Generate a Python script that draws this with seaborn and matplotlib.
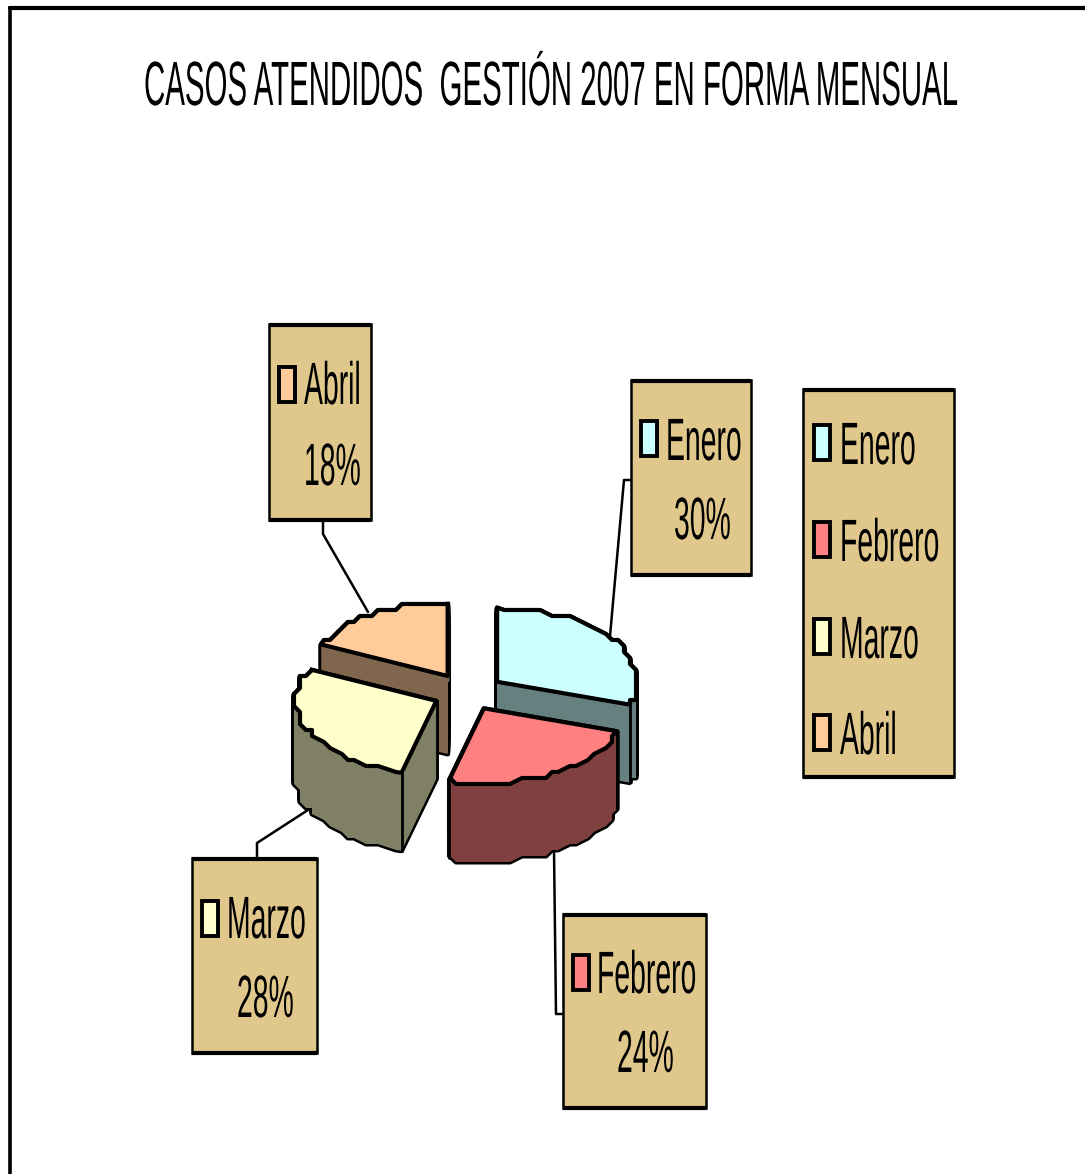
# Casos atendidos gestion 2007 - torta 3D separada
import matplotlib
matplotlib.use("Agg")
import matplotlib.pyplot as plt
import matplotlib.patheffects as pe
from matplotlib.patches import Rectangle
from matplotlib.path import Path
from matplotlib.transforms import Affine2D, IdentityTransform
import numpy as np
import seaborn as sns

# Datos
meses = ["Enero", "Febrero", "Marzo", "Abril"]
porcentajes = [30, 24, 28, 18]
colores = ["#CCFFFF", "#FF8080", "#FFFFCC", "#FFCC99"]
colores_lado = ["#668080", "#804040", "#808066", "#80664D"]
titulo = "CASOS ATENDIDOS  GESTIÓN 2007 EN FORMA MENSUAL"

# Layout en pixeles
W, H = 1085, 1174
APLASTE = 0.53
ALTO = 78
CENTRO = (468, 693)
RADIO = 140
SEPARA = [36, 33, 35, 38]
ORDEN = [1, 3, 2, 0]  # rango de dibujo de cada mes, 0 es el de atras
TAN = "#E0C78C"
ANGOSTO = 0.475

cajas = {"Enero": (631, 380, 751, 575), "Febrero": (563, 914, 706, 1108),
         "Marzo": (192, 858, 317, 1053), "Abril": (269, 324, 371, 520)}
textos = {"Enero": (666, 460, 674, 539), "Febrero": (597, 993, 617, 1072),
          "Marzo": (227, 938, 237, 1017), "Abril": (304, 404, 304, 485)}
muestras = {"Enero": (641, 421), "Febrero": (573, 955), "Marzo": (202, 901), "Abril": (279, 367)}
guias = {"Enero": [(632, 480), (624, 480), (610, 636)],
         "Febrero": [(564, 1014), (556, 1014), (554, 850)],
         "Marzo": [(257, 859), (257, 843), (308, 810)],
         "Abril": [(323, 520), (323, 534), (368, 612)]}
leyenda_caja = (803, 389, 954, 777)
leyenda_base = [464, 561, 658, 754]


class Estirado(pe.AbstractPathEffect):
    # estira el texto en y desde su linea base
    def __init__(self, y0, sy):
        super().__init__()
        self.y0, self.sy = y0, sy

    def draw_path(self, renderer, gc, tpath, affine, rgbFace=None):
        a = affine + Affine2D().translate(0, -self.y0).scale(1, self.sy).translate(0, self.y0)
        renderer.draw_path(gc, tpath, a, rgbFace)


class Escalones(pe.AbstractPathEffect):
    # borde curvo escalonado, como el metarchivo de baja resolucion
    def __init__(self, baja=0.0, paso=6.0):
        super().__init__()
        self.baja, self.paso = baja, paso

    def draw_path(self, renderer, gc, tpath, affine, rgbFace=None):
        p = tpath.to_polygons(affine, closed_only=False)[0]
        largo = np.hypot(*np.diff(p, axis=0).T)
        fijo = np.zeros(len(p), dtype=bool)
        fijo[:-1] |= largo > 40
        fijo[1:] |= largo > 40
        # misma forma en todos los pisos
        q = p + [0, self.baja]
        q[~fijo] = np.round(q[~fijo] / self.paso) * self.paso
        renderer.draw_path(gc, Path(q - [0, self.baja]), IdentityTransform(), rgbFace)


sns.set_theme(style="white")
plt.rcParams["font.family"] = ["Liberation Sans", "DejaVu Sans"]

fig = plt.figure(figsize=(W / 100, H / 100), dpi=100, facecolor="white")
ax = fig.add_axes([0, 0, 1, 1], zorder=0)
ax.set_xlim(0, W)
ax.set_ylim(H, 0)
ax.axis("off")

ax_pie = fig.add_axes([0, 0, 1, 1], zorder=1, facecolor="none")


def escribir(x, y, s, size, sx=ANGOSTO):
    ax.text(x, y, s, fontsize=size * sx, color="black", ha="left", va="baseline",
            path_effects=[Estirado(H - y, 1 / sx)])


def caja(x0, y0, x1, y1):
    ax.add_patch(Rectangle((x0, y0), x1 - x0, y1 - y0, fc=TAN, ec="black", lw=1.8, zorder=3))
    ax.plot([x0, x1], [y0 + 0.5, y0 + 0.5], color="black", lw=3, solid_capstyle="butt", zorder=4)
    ax.plot([x0, x1], [y1, y1], color="black", lw=3, solid_capstyle="butt", zorder=4)


def muestra(x, y, color):
    ax.add_patch(Rectangle((x, y), 16, 35, fc=color, ec="black", lw=2.8, zorder=5))


# Marco
ax.plot([10, 10, W], [H, 8, 8], color="black", lw=2.6, solid_joinstyle="miter", zorder=2)
ax.plot([10, W], [8, 8], color="black", lw=3, zorder=2)

# Titulo
escribir(144, 105, titulo, 45, sx=0.471)

# Lineas guia, cajas y porcentajes
for mes, pct, color in zip(meses, porcentajes, colores):
    xs, ys = zip(*guias[mes])
    ax.plot(xs, ys, color="black", lw=1.8, zorder=2)
    caja(*cajas[mes])
    muestra(*muestras[mes], color)
    x1, y1, x2, y2 = textos[mes]
    escribir(x1, y1, mes, 43)
    escribir(x2, y2, f"{pct}%", 43)

# Leyenda
caja(*leyenda_caja)
for mes, color, base in zip(meses, colores, leyenda_base):
    muestra(814, base - 39, color)
    escribir(840, base, mes, 43)

# Torta: pisos apilados de abajo hacia arriba, y aplastada por el eje y
cx, cy = CENTRO[0], (H - CENTRO[1]) / APLASTE
alto = ALTO / APLASTE


def piso(dy, colors, i, zorder, union="round", **wedgeprops):
    wedges, _ = ax_pie.pie(porcentajes, explode=SEPARA, radius=RADIO, center=(cx, cy - dy),
                           startangle=90, counterclock=False, colors=colors, frame=True,
                           wedgeprops=wedgeprops)
    for j, w in enumerate(wedges):
        if j != i:
            w.remove()
    w = wedges[i]
    w.set_zorder(zorder)
    w.set_joinstyle(union)
    w.set_path_effects([Escalones(dy * APLASTE)])
    return w


capas = np.arange(alto, -0.1, -1.9)
for i, rango in enumerate(ORDEN):
    base = 10 * (rango + 1)
    for dy in capas:
        piso(dy, colores_lado, i, base, linewidth=3.6, edgecolor="black")
    for dy in capas:
        piso(dy, colores_lado, i, base + 1, linewidth=0)
    w = piso(0, colores, i, base + 3, linewidth=3.0, edgecolor="black")
    # aristas verticales del frente
    for ang in (w.theta1, w.theta2):
        if np.sin(np.radians(ang)) < 0:
            px = w.center[0] + RADIO * np.cos(np.radians(ang))
            py = w.center[1] + RADIO * np.sin(np.radians(ang))
            ax_pie.plot([px, px], [py, py - alto], color="black", lw=2, zorder=base + 2)

ax_pie.set_aspect("auto")
ax_pie.set_xlim(0, W)
ax_pie.set_ylim(0, H / APLASTE)
ax_pie.axis("off")

fig.savefig("out.png", dpi=100, facecolor="white")
